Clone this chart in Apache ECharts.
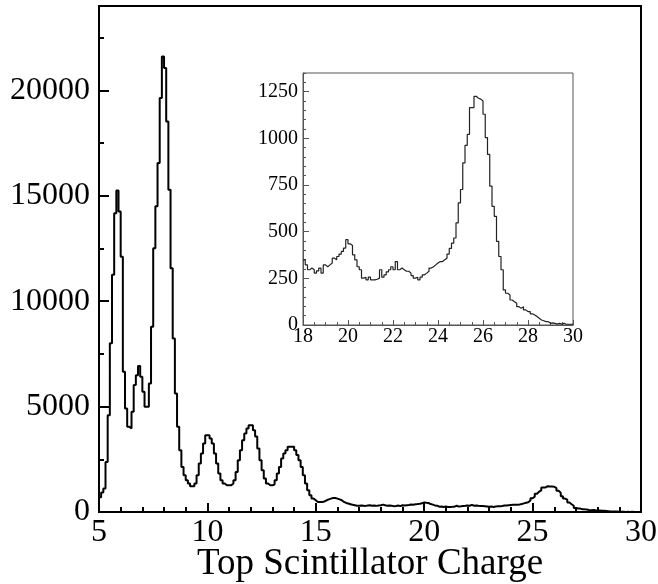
<!DOCTYPE html>
<html><head><meta charset="utf-8">
<script src="https://cdn.jsdelivr.net/npm/echarts@6/dist/echarts.min.js"></script>
<style>html,body{margin:0;padding:0;background:#fff}#c{width:658px;height:584px}</style>
</head><body><div id="c"></div>
<script>
// Histogram of top scintillator charge, bins of 0.1 starting at 5
const binStart = 5;
const binWidth = 0.1;
// counts for bins 5.0 .. 17.9
const countsLow = [
  700,930,1110,2375,4590,8000,11250,14170,15250,14250,
  12110,6650,4910,4040,3960,4750,6020,6490,6920,6410,
  5700,4990,4990,6100,8790,12510,14500,16550,19640,21610,
  21060,18525,15280,11560,8235,5620,4040,2930,2140,1745,
  1507,1348,1222,1222,1348,1744,2298,2773,3248,3644,
  3644,3490,3248,2773,2298,1823,1507,1348,1269,1269,
  1269,1348,1507,1903,2457,2932,3406,3723,3960,4120,
  4120,3880,3580,3010,2457,1982,1586,1348,1269,1269,
  1300,1507,1823,2140,2536,2770,2930,3090,3100,3090,
  2930,2700,2450,2140,1745,1348,1030,794,636,557,
  478,470,478,500,557,600,635,660,660,635,
  600,557,478,430,400,370,340,320,300,300,
  310,300,290,310,320,300,310,290,310,320
];
// counts for bins 18.0 .. 29.9 (also shown in the inset)
const countsHigh = [
  349,322,296,305,296,278,290,305,278,322,
  312,322,332,358,349,367,380,394,412,457,
  435,426,376,349,312,296,251,256,242,256,
  242,242,245,251,296,256,269,285,296,312,
  296,340,296,305,296,288,288,278,265,251,
  256,242,256,269,278,288,305,312,322,332,
  340,340,349,358,380,410,439,466,547,654,
  726,869,962,1021,1165,1165,1225,1215,1210,1200,
  1129,1004,914,744,636,582,448,367,296,188,
  170,161,134,125,117,98,89,98,81,72,
  72,60,54,45,36,27,23,18,18,9,
  11,9,5,9,5,9,4,4,4,4
];
const xRangeMain = [5, 30];
const yRangeMain = [0, 24000];
const xRangeInset = [18, 30];
const yRangeInset = [0, 1350];
const xTitle = 'Top Scintillator Charge';

const counts = countsLow.concat(countsHigh);
const pts = counts.map((v, i) => [Math.round((binStart + i * binWidth) * 10) / 10, v]);
pts.push([xRangeMain[1], counts[counts.length - 1]]);
const insetPts = pts.filter(p => p[0] >= xRangeInset[0]);

const serif = 'Liberation Serif, Times New Roman, serif';
const plain = v => String(v);
const chart = echarts.init(document.getElementById('c'), null, {renderer: 'canvas'});
chart.setOption({
  animation: false,
  backgroundColor: '#fff',
  grid: [
    {left: 99, top: 6, width: 542, height: 506, show: true, borderColor: '#000', borderWidth: 2, backgroundColor: '#fff', containLabel: false, outerBoundsMode: 'none'},
    {left: 303, top: 73, width: 270, height: 252, show: true, borderColor: '#555', borderWidth: 1, backgroundColor: '#fff', containLabel: false, outerBoundsMode: 'none'}
  ],
  xAxis: [
    {gridIndex: 0, type: 'value', min: xRangeMain[0], max: xRangeMain[1], interval: 5,
     axisLine: {show: true, lineStyle: {color: '#000', width: 2}},
     axisTick: {show: true, inside: true, length: 9, lineStyle: {color: '#000', width: 2}},
     minorTick: {show: true, splitNumber: 5, length: 5, lineStyle: {color: '#000', width: 2}},
     splitLine: {show: false},
     axisLabel: {fontFamily: serif, fontSize: 32, color: '#000', margin: 5, formatter: plain},
     name: xTitle, nameLocation: 'middle', nameGap: 34, nameMoveOverlap: false,
     nameTextStyle: {fontFamily: serif, fontSize: 37, color: '#000'}},
    {gridIndex: 1, type: 'value', min: xRangeInset[0], max: xRangeInset[1], interval: 2,
     axisLine: {show: true, lineStyle: {color: '#555', width: 1}},
     axisTick: {show: true, inside: true, length: 5, lineStyle: {color: '#555', width: 1}},
     minorTick: {show: true, splitNumber: 4, length: 3, lineStyle: {color: '#555', width: 1}},
     splitLine: {show: false},
     axisLabel: {fontFamily: serif, fontSize: 20, color: '#000', margin: 2, formatter: plain}}
  ],
  yAxis: [
    {gridIndex: 0, type: 'value', position: 'left', min: yRangeMain[0], max: yRangeMain[1], interval: 5000,
     axisLine: {show: true, lineStyle: {color: '#000', width: 2}},
     axisTick: {show: true, inside: true, length: 10, lineStyle: {color: '#000', width: 2}},
     splitLine: {show: false},
     axisLabel: {fontFamily: serif, fontSize: 32, color: '#000', margin: 9, showMaxLabel: false, formatter: plain}},
    {gridIndex: 0, type: 'value', position: 'left', offset: 0, min: yRangeMain[0], max: yRangeMain[1], interval: 2500,
     axisLine: {show: false},
     axisTick: {show: true, inside: true, length: 5, lineStyle: {color: '#000', width: 2}},
     splitLine: {show: false}, axisLabel: {show: false}},
    {gridIndex: 1, type: 'value', position: 'left', min: yRangeInset[0], max: yRangeInset[1], interval: 250,
     axisLine: {show: true, lineStyle: {color: '#555', width: 1}},
     axisTick: {show: true, inside: true, length: 6, lineStyle: {color: '#555', width: 1}},
     splitLine: {show: false},
     axisLabel: {fontFamily: serif, fontSize: 20, color: '#000', margin: 5, showMaxLabel: false, formatter: plain}},
    {gridIndex: 1, type: 'value', position: 'left', offset: 0, min: yRangeInset[0], max: yRangeInset[1], interval: 50,
     axisLine: {show: false},
     axisTick: {show: true, inside: true, length: 3, lineStyle: {color: '#555', width: 1}},
     splitLine: {show: false}, axisLabel: {show: false}}
  ],
  series: [
    {type: 'line', xAxisIndex: 0, yAxisIndex: 0, step: 'end', data: pts, symbol: 'none',
     lineStyle: {color: '#000', width: 2}, z: 3},
    {type: 'line', xAxisIndex: 1, yAxisIndex: 2, step: 'end', data: insetPts, symbol: 'none',
     lineStyle: {color: '#222', width: 1.2}, z: 5}
  ]
});
</script></body></html>
